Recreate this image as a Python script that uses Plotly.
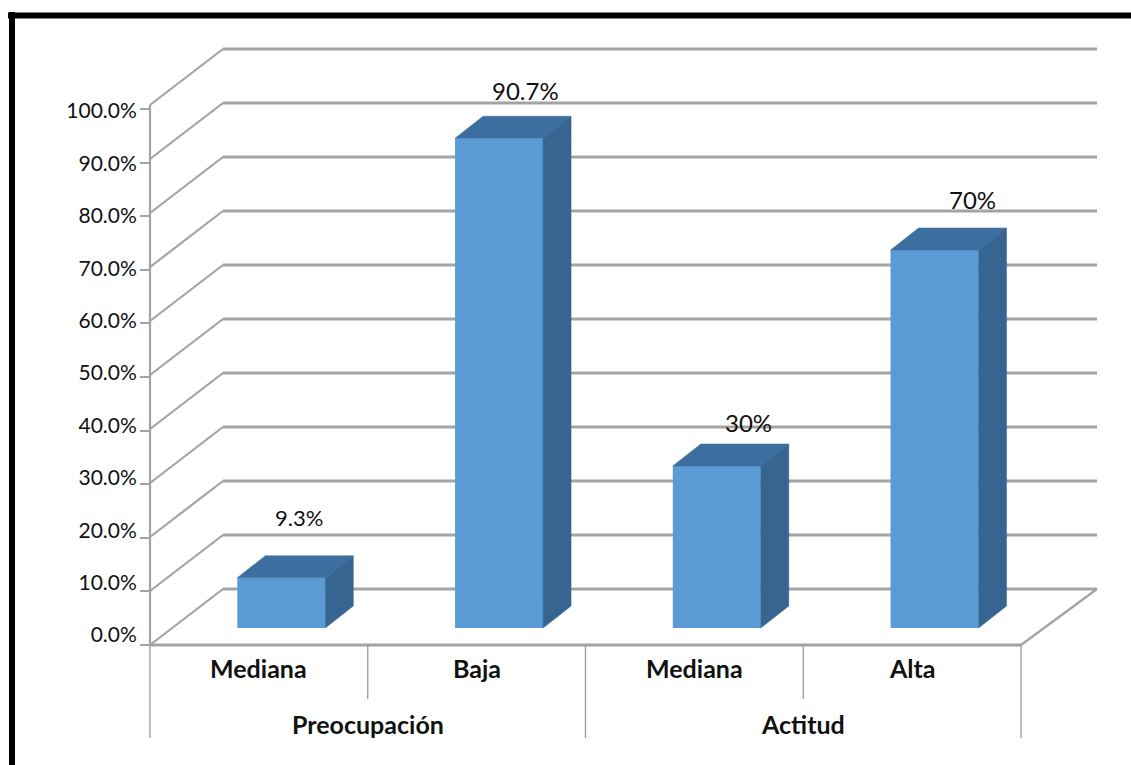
import plotly.graph_objects as go

# Chart data
groups = ["Preocupación", "Actitud"]
categories = ["Mediana", "Baja", "Mediana", "Alta"]
values = [9.3, 90.7, 30, 70]
value_labels = ["9.3%", "90.7%", "30%", "70%"]
label_sizes = [22, 24, 24, 24]
label_shift_x = [18, 26, 32, 38]
label_shift_y = [60, 48, 44, 51]
tick_values = [0, 10, 20, 30, 40, 50, 60, 70, 80, 90, 100]
tick_labels = ["0.0%", "10.0%", "20.0%", "30.0%", "40.0%", "50.0%",
               "60.0%", "70.0%", "80.0%", "90.0%", "100.0%"]

# Page and pseudo-3D geometry
W, H = 1131, 765
PLOT_LEFT, PLOT_RIGHT = 150, 1021
BASE_Y = 628            # page row of the bars' foot
PX_PER_CAT = (PLOT_RIGHT - PLOT_LEFT) / 4
PX_PER_PCT = 5.4
WALL_DX = 73 / PX_PER_CAT
WALL_END_DX = 76 / PX_PER_CAT
FRONT_DY = -17 / PX_PER_PCT
BACK_DY = 39 / PX_PER_PCT
BAR_WIDTH = 88 / PX_PER_CAT
BAR_DX = 28 / PX_PER_CAT
BAR_DY = 22 / PX_PER_PCT
BAR_OFFSET = 0.603

FRONT = "#5b9bd5"
TOP = "#3c6f9f"
SIDE = "#376591"
GRID = "#a3a3a3"
FONT = "Lato"
TEXT = "#111111"

xs = [i + BAR_OFFSET for i in range(len(values))]


def y_range(base_row, scale):
    return [(base_row - H) / scale, base_row / scale]


fig = go.Figure()

# Front faces
fig.add_trace(go.Bar(x=xs, y=values, width=BAR_WIDTH, marker=dict(color=FRONT, line_width=0),
                     showlegend=False, hoverinfo="skip"))

# Top and side faces follow each bar's value
for x, v in zip(xs, values):
    l, r = x - BAR_WIDTH / 2, x + BAR_WIDTH / 2
    fig.add_trace(go.Scatter(
        x=[l, r, r + BAR_DX, l + BAR_DX, l], y=[v, v, v + BAR_DY, v + BAR_DY, v],
        fill="toself", fillcolor=TOP, mode="lines", line=dict(width=0.5, color=TOP),
        showlegend=False, hoverinfo="skip"))
    fig.add_trace(go.Scatter(
        x=[r, r + BAR_DX, r + BAR_DX, r, r], y=[0, BAR_DY, v + BAR_DY, v, 0],
        fill="toself", fillcolor=SIDE, mode="lines", line=dict(width=0.5, color=SIDE),
        showlegend=False, hoverinfo="skip"))

# Carriers for the value axis labels and its tick marks
fig.add_trace(go.Scatter(x=[0, 0], y=[0, 100], yaxis="y2", mode="none", showlegend=False, hoverinfo="skip"))
fig.add_trace(go.Scatter(x=[0, 0], y=[0, 100], yaxis="y3", mode="none", showlegend=False, hoverinfo="skip"))

shapes = []


def line(x0, y0, x1, y1, color=GRID, width=2.0, xref="x", yref="y", layer="below"):
    shapes.append(dict(type="line", x0=x0, y0=y0, x1=x1, y1=y1, xref=xref, yref=yref,
                       layer=layer, line=dict(color=color, width=width)))


# Wall gridlines with their slanted returns along the side wall
n = len(values)
for t in tick_values:
    line(0, t + FRONT_DY, WALL_DX, t + BACK_DY, width=2.2)
    line(WALL_DX, t + BACK_DY, n + WALL_END_DX, t + BACK_DY, width=2.8)

# Floor edges and the front axis line
line(0, FRONT_DY, n, FRONT_DY, width=3)
line(n, FRONT_DY, n + WALL_END_DX, BACK_DY, width=2.2)
line(0, FRONT_DY, 0, 100 + FRONT_DY, width=2.2)

# Category separators: short between categories, long between groups
sep_bottom_short = (BASE_Y - 699) / PX_PER_PCT
sep_bottom_long = (BASE_Y - 738) / PX_PER_PCT
for i in range(n + 1):
    line(i, FRONT_DY, i, sep_bottom_long if i % 2 == 0 else sep_bottom_short, color="#9a9a9a", width=1.3)

# Outer frame, open at the right and bottom
line(8 / W, 1 - 15.5 / H, 1, 1 - 15.5 / H, color="#000000", width=6, xref="paper", yref="paper", layer="above")
line(12 / W, 1 - 12 / H, 12 / W, 0, color="#000000", width=6, xref="paper", yref="paper", layer="above")

annotations = []
cat_row = (BASE_Y - 668) / PX_PER_PCT
for i, c in enumerate(categories):
    annotations.append(dict(x=i + 0.5, y=cat_row, text=f"<b>{c}</b>", showarrow=False,
                            font=dict(family=FONT, size=25, color=TEXT)))
group_row = (BASE_Y - 724) / PX_PER_PCT
for i, g in enumerate(groups):
    annotations.append(dict(x=2 * i + 1, y=group_row, text=f"<b>{g}</b>", showarrow=False,
                            font=dict(family=FONT, size=25, color=TEXT)))
for x, v, t, size, sx, sy in zip(xs, values, value_labels, label_sizes, label_shift_x, label_shift_y):
    annotations.append(dict(x=x, y=v, text=t, showarrow=False, xshift=sx, yshift=sy,
                            font=dict(family=FONT, size=size, color=TEXT)))

fig.update_layout(
    width=W, height=H, margin=dict(l=0, r=0, t=0, b=0),
    paper_bgcolor="white", plot_bgcolor="white", showlegend=False,
    shapes=shapes, annotations=annotations,
    xaxis=dict(range=[-PLOT_LEFT / PX_PER_CAT, (W - PLOT_LEFT) / PX_PER_CAT],
               visible=False, domain=[0, 1]),
    yaxis=dict(range=y_range(BASE_Y, PX_PER_PCT), visible=False, domain=[0, 1]),
    yaxis2=dict(range=y_range(635, 5.24), overlaying="y", anchor="free",
                position=PLOT_LEFT / W, side="left", showgrid=False, zeroline=False,
                showline=False, tickmode="array", tickvals=tick_values, ticktext=tick_labels,
                ticks="outside", ticklen=9, tickcolor="rgba(0,0,0,0)",
                tickfont=dict(family=FONT, size=21, color=TEXT)),
    yaxis3=dict(range=y_range(645, 5.36), overlaying="y", anchor="free",
                position=PLOT_LEFT / W, side="left", showgrid=False, zeroline=False,
                showline=False, tickmode="array", tickvals=tick_values, showticklabels=False,
                ticks="outside", ticklen=10, tickwidth=2, tickcolor=GRID),
)

fig.write_html("out.html", config=dict(displayModeBar=False))
